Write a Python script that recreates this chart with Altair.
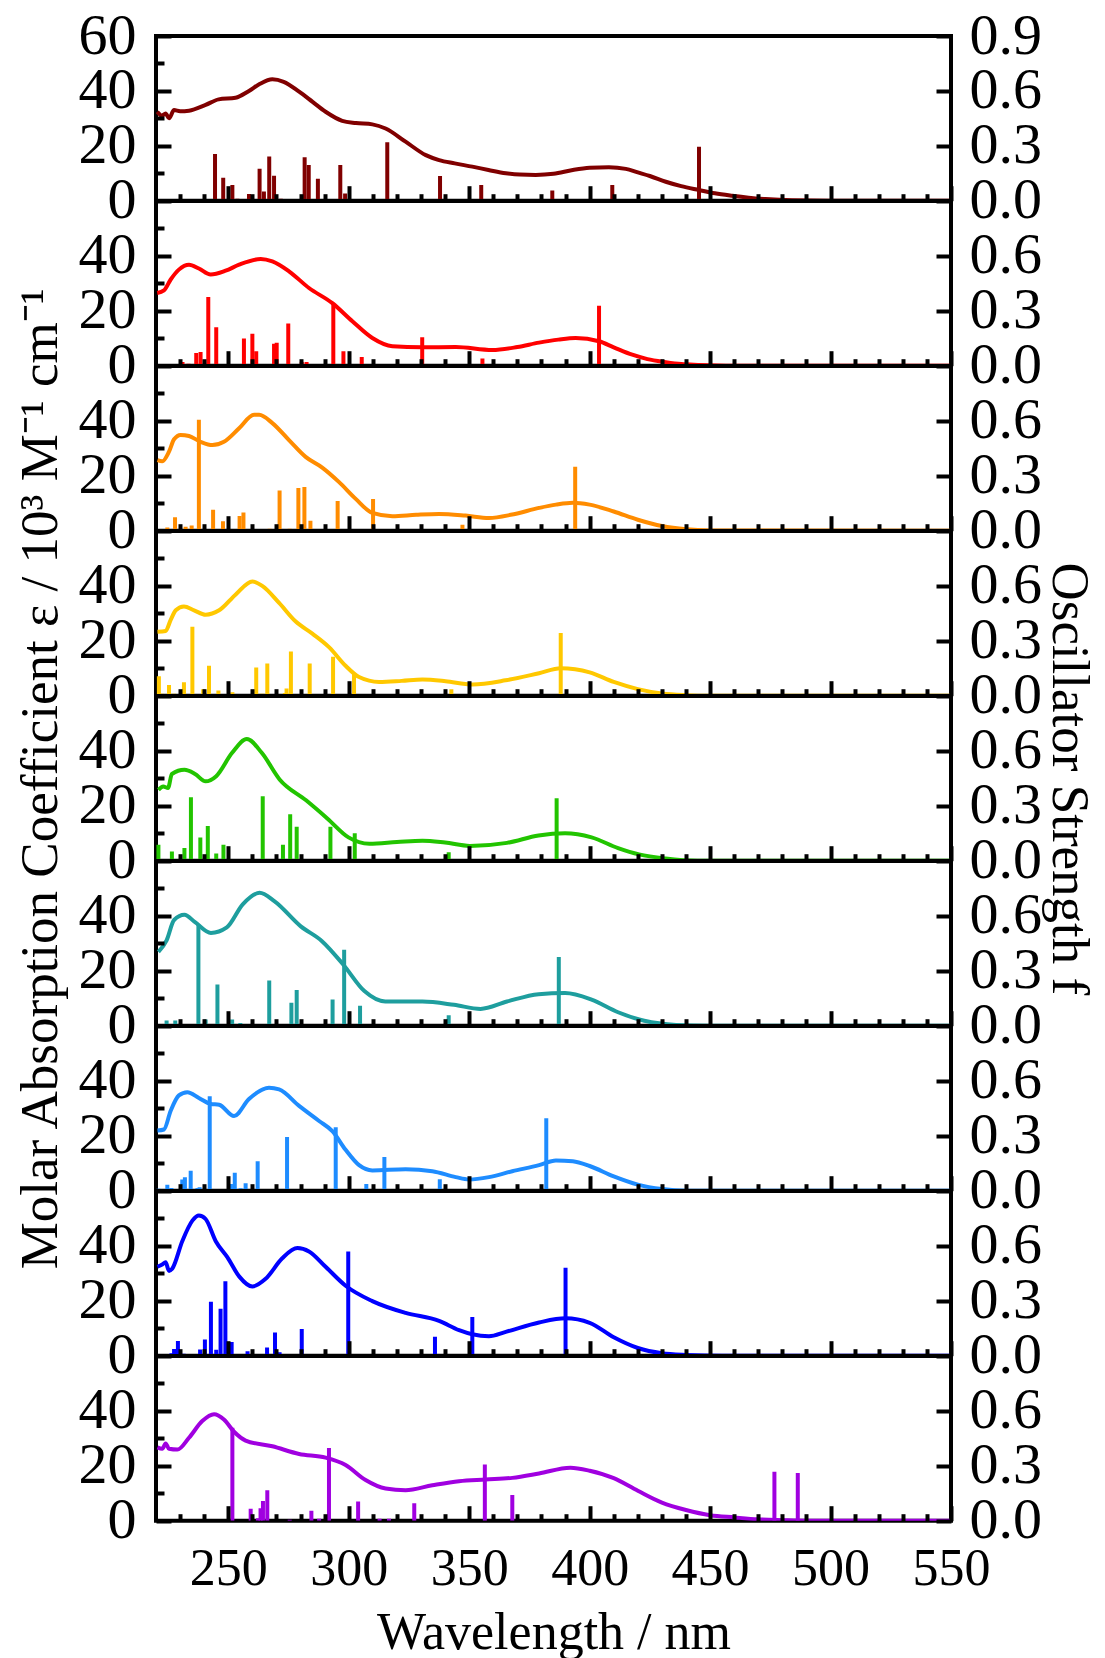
import altair as alt
import pandas as pd

FONT = "Liberation Serif"
COLORS = ["#800000", "#FF0000", "#FF8C00", "#FFC800", "#22C400",
          "#1E9E9E", "#1E8CFF", "#0000FF", "#A000E0"]

X_MAJOR = [250, 300, 350, 400, 450, 500, 550]
X_MINOR = [230, 240, 260, 270, 280, 290, 310, 320, 330, 340, 360, 370, 380, 390,
           410, 420, 430, 440, 460, 470, 480, 490, 510, 520, 530, 540]
EPS_MAJOR_TOP = [0, 20, 40, 60]
EPS_MAJOR = [0, 20, 40]
EPS_MINOR = [10, 30, 50]
F_MAJOR_TOP = [0.0, 0.3, 0.6, 0.9]
F_MAJOR = [0.0, 0.3, 0.6]

# ---- panel 1 (dark red)
P1_WL = [220.5, 222.5, 224, 225.4, 227.5, 230, 233.7, 240.6, 246, 253, 258.6, 263, 268.3, 273,
         279.4, 285, 290.4, 297.3, 303, 309.8, 315.3, 323.6, 332, 337.5, 344, 351.3, 358, 365.2,
         371, 377.6, 385, 393, 400, 408, 415, 420, 425, 431.6, 438, 445.4, 452, 459.2, 466, 473,
         484, 500, 550]
P1_EPS = [32.4, 31, 31.8, 30, 33, 32.6, 32.8, 34.9, 36.9, 37.5, 40, 42.5, 44.2, 43.3,
          39.7, 36, 32.4, 29.1, 28.3, 27.8, 26.3, 21.5, 16.6, 14.8, 13.6, 12.4, 11.2, 10,
          9.5, 9.4, 9.8, 11.2, 12, 12.2, 11.6, 10.3, 9, 6.9, 5.3, 3.9, 2.7, 1.8, 1.1, 0.6,
          0.15, 0, 0]
P1_SWL = [244.5, 247.9, 251.7, 253.8, 258.6, 263, 264.8, 267, 269, 271.8, 275.9, 281.7, 283.4,
          287.2, 296.5, 298.5, 316, 337.9, 355, 384.5, 409.4, 445.4]
P1_SF = [0.255, 0.126, 0.086, 0.01, 0.036, 0.175, 0.05, 0.242, 0.137, 0.01, 0.005, 0.237, 0.195,
         0.12, 0.195, 0.04, 0.32, 0.135, 0.086, 0.056, 0.086, 0.295]

# ---- panel 2 (red)
P2_WL = [220.5, 223.3, 226.1, 229.5, 233.7, 237.8, 242.7, 248.9, 254.5, 263.5, 268.3, 275.2,
         283.5, 293.2, 301.5, 309.8, 318.1, 330.5, 344.4, 359.6, 370, 379, 387, 394.2, 403.9,
         410, 417.7, 424, 431.6, 438, 445, 460, 550]
P2_EPS = [26.5, 27.4, 31.4, 35, 36.8, 35.4, 33.2, 34.6, 36.8, 38.9, 38, 34.4,
          28.3, 22.8, 16.2, 10.1, 7.1, 6.7, 6.8, 5.7, 6.8, 8.4, 9.5, 10.1, 8.9,
          6.7, 4, 2.4, 1.3, 0.6, 0.3, 0, 0]
P2_SWL = [231, 233.5, 236.7, 238.5, 241.7, 245, 256.5, 260, 261.6, 269, 270.1, 274.9, 280.5,
          282.5, 293.6, 297.8, 305.4, 330.5, 355.5, 403.9]
P2_SF = [0.02, 0.01, 0.07, 0.075, 0.375, 0.21, 0.148, 0.175, 0.079, 0.12, 0.126, 0.23, 0.02,
         0.02, 0.337, 0.079, 0.048, 0.155, 0.039, 0.328]

# ---- panel 3 (orange)
P3_WL = [220.6, 222.6, 225.4, 227.5, 230.2, 233.7, 238.5, 243.4, 248.2, 254.5, 260.7, 262.8,
         268.3, 275.2, 282.1, 289, 296, 302.9, 309.8, 318.1, 328, 337.5, 348.5, 358.2, 367.9,
         379, 386, 393, 400, 410, 420, 430, 440, 450, 550]
P3_EPS = [25.7, 25.3, 28.8, 33.3, 34.9, 34.5, 32.4, 31.2, 32.4, 37.3, 42.2, 42.2,
          39.2, 33, 26.9, 23, 17.7, 11.6, 6.5, 5.3, 5.8, 6.1, 5.5, 4.65, 5.9,
          8.3, 9.5, 10.2, 9.5, 7, 4, 1.7, 0.5, 0.1, 0]
P3_SWL = [224.7, 227.9, 232.3, 234.8, 237.8, 243.7, 247.8, 254.7, 256.3, 267.2, 271.3, 275.5,
          279.1, 281.6, 284.1, 295.4, 310.1, 347.2, 394]
P3_SF = [0.018, 0.073, 0.022, 0.029, 0.606, 0.114, 0.051, 0.081, 0.099, 0.01, 0.22, 0.01,
         0.233, 0.239, 0.055, 0.162, 0.173, 0.033, 0.349]

# ---- panel 4 (gold)
P4_WL = [220.6, 224, 226.1, 228.2, 231.6, 235.8, 240.6, 246.2, 253.1, 260, 264.1, 271.1, 278,
         284.9, 291.8, 298.7, 304.3, 312.6, 322, 330.6, 340.2, 351.3, 365.1, 379, 388, 400, 410,
         420, 430, 440, 450, 550]
P4_EPS = [23.3, 23.6, 27.6, 31.1, 32.5, 31.1, 29.5, 31.1, 36.9, 41.6, 40, 33.8, 27,
          22.6, 17.7, 10.9, 6.8, 5, 5.4, 5.9, 5.3, 4.1, 5.6, 8.2, 10, 8.5, 5,
          2.4, 0.8, 0.2, 0, 0]
P4_SWL = [221.2, 222.5, 225.4, 227.5, 231.6, 235.1, 239.6, 242, 245.9, 251.7, 261.6, 264.1,
          266.2, 273.5, 274.2, 276, 283.8, 293.5, 302.2, 342.6, 388]
P4_SF = [0.106, 0.01, 0.059, 0.01, 0.074, 0.377, 0.035, 0.163, 0.028, 0.019, 0.154, 0.01,
         0.176, 0.015, 0.039, 0.241, 0.176, 0.213, 0.12, 0.035, 0.342]

# ---- panel 5 (green)
P5_WL = [221, 223, 225, 226.6, 231.8, 236.2, 240.6, 245, 251.6, 257.7, 263.9, 271.3, 282.3,
         291.1, 299.9, 308.6, 320, 330.6, 340, 350.3, 365.7, 378.8, 389.8, 400.8, 411.8, 420.5,
         431.5, 444.7, 550]
P5_EPS = [25.8, 27, 26.5, 31.6, 33.1, 31.6, 28.9, 30.8, 39.3, 44.3, 39.3, 29.6, 22,
          15.4, 8.5, 6.2, 6.8, 7.3, 6.6, 5.4, 6.5, 9.2, 10, 8.5, 4.6, 2.3,
          0.8, 0, 0]
P5_SWL = [221, 226.6, 231.8, 234.5, 238.4, 241.5, 245, 248, 264.3, 272.7, 275.7, 278.4, 292.4,
          302.5, 341.5, 386.3]
P5_SF = [0.087, 0.05, 0.07, 0.347, 0.127, 0.19, 0.04, 0.087, 0.352, 0.087, 0.254, 0.185, 0.185,
         0.15, 0.046, 0.341]

# ---- panel 6 (teal)
P6_WL = [221, 224.4, 227.5, 231.8, 236.2, 242.8, 249.4, 256, 263, 269.1, 280.1, 288.9, 297.7,
         306.5, 315.2, 330.6, 343.7, 354.7, 365.7, 378.8, 389.8, 400.8, 411.8, 422.7, 435.9,
         450, 550]
P6_EPS = [26.9, 31.1, 38.5, 40.4, 37.7, 33.8, 35.8, 44.2, 48.4, 45.4, 36.2, 30.8, 22.3,
          12.6, 8.8, 8.8, 7.6, 6.1, 8.8, 11.5, 11.9, 9.5, 4.9, 1.8, 0.3,
          0, 0]
P6_SWL = [224.4, 228, 237.6, 240.6, 245.5, 251.6, 255, 267, 276.2, 278.4, 293.3, 298.1, 304.7,
          341.5, 387.2]
P6_SF = [0.028, 0.028, 0.553, 0.034, 0.225, 0.034, 0.015, 0.247, 0.126, 0.195, 0.143, 0.415,
         0.109, 0.057, 0.375]

# ---- panel 7 (azure)
P7_WL = [220.6, 223.3, 226.1, 229.5, 233, 237.8, 242.7, 246.2, 252.4, 258.6, 266.9, 271.1,
         279.4, 287.7, 293.2, 298.7, 304.3, 309.8, 323.6, 334.7, 344.4, 349.9, 358.2, 367.9,
         379, 386, 393, 400, 410, 420, 430, 440, 550]
P7_EPS = [21.9, 22.3, 29.1, 34.7, 35.9, 33.8, 31.6, 31.3, 27.2, 33.4, 37.5, 36.9,
          30.9, 25.4, 21.7, 14.9, 9.3, 7.4, 7.8, 7.1, 4.95, 4.1, 4.95, 7.1,
          9.3, 11, 10.7, 9, 5.2, 2.2, 0.6, 0, 0]
P7_SWL = [221, 224.7, 226.4, 230.9, 232, 234.4, 237.2, 238.1, 242.3, 251.1, 252.7, 255.1, 257.2,
          262.2, 274.4, 294.6, 307.3, 314.8, 337.8, 382]
P7_SF = [0.01, 0.032, 0.015, 0.061, 0.074, 0.109, 0.015, 0.019, 0.516, 0.037, 0.098, 0.013,
         0.041, 0.161, 0.293, 0.347, 0.037, 0.184, 0.063, 0.396]

# ---- panel 8 (blue)
P8_WL = [220.6, 222.6, 224, 225.4, 226.8, 230.9, 235.1, 237.8, 240.6, 244.8, 249.6, 254.5, 260,
         265.5, 272.4, 278.7, 283.5, 290.4, 298.7, 309.8, 323.6, 337.5, 345.8, 351.3, 358.2,
         365.2, 379, 390, 400, 410, 420, 430, 440, 455, 550]
P8_EPS = [32.4, 33.2, 34, 30.9, 31.8, 41.7, 49.2, 51.1, 49.8, 41.7, 35.9, 28.9, 25.2,
          28, 35.5, 39.2, 38, 32.4, 25.5, 19.9, 15.6, 12.7, 9.3, 7.8, 7.1,
          8.7, 12.1, 13.6, 12, 6.7, 2.8, 0.9, 0.3, 0, 0]
P8_SWL = [226.4, 227.5, 229.1, 231.5, 238.3, 240.3, 242.8, 245, 246.8, 248.8, 251.4, 254, 258,
          266.1, 269.4, 271.3, 280.5, 299.8, 335.8, 351.3, 390]
P8_SF = [0.013, 0.037, 0.08, 0.01, 0.034, 0.088, 0.295, 0.032, 0.256, 0.407, 0.075, 0.005, 0.024,
         0.045, 0.127, 0.019, 0.146, 0.569, 0.103, 0.211, 0.48]

# ---- panel 9 (purple)
P9_WL = [220.6, 222.6, 224, 225.4, 228.9, 233.7, 239.2, 244.1, 248.2, 252.4, 257.2, 268.3,
         279.4, 290.4, 298.7, 307, 315.3, 323.6, 334.7, 345.8, 356.8, 367.9, 379, 392, 400,
         410, 420, 430, 440, 450, 460, 470, 480, 490, 550]
P9_EPS = [26.7, 26.2, 28.1, 26.2, 25.9, 30.2, 36.3, 38.8, 36.9, 32.4, 29.2, 27.1,
          24.3, 23, 20.3, 14.8, 11.7, 11.1, 12.9, 14.4, 15, 15.6, 17.2, 19.3, 18.2,
          15.5, 10.9, 6.6, 3.9, 2, 1.2, 0.5, 0.2, 0, 0]
P9_SWL = [251.7, 259.3, 262.3, 263.4, 264.4, 266.2, 275.5, 284.5, 287.7, 291.8, 303.9, 312.8,
          316.7, 327.2, 356.5, 367.9, 476.7, 486.4]
P9_SF = [0.508, 0.065, 0.013, 0.068, 0.107, 0.166, 0.005, 0.054, 0.01, 0.397, 0.105, 0.01,
         0.01, 0.096, 0.307, 0.14, 0.267, 0.261]

PANELS = [
    (P1_WL, P1_EPS, P1_SWL, P1_SF), (P2_WL, P2_EPS, P2_SWL, P2_SF),
    (P3_WL, P3_EPS, P3_SWL, P3_SF), (P4_WL, P4_EPS, P4_SWL, P4_SF),
    (P5_WL, P5_EPS, P5_SWL, P5_SF), (P6_WL, P6_EPS, P6_SWL, P6_SF),
    (P7_WL, P7_EPS, P7_SWL, P7_SF), (P8_WL, P8_EPS, P8_SWL, P8_SF),
    (P9_WL, P9_EPS, P9_SWL, P9_SF),
]

LEFT_TITLE = "Molar Absorption Coefficient ε / 10³ M⁻¹ cm⁻¹"
RIGHT_TITLE = "Oscillator Strength f"
X_TITLE = "Wavelength / nm"

W = 795
H = 164.7


def make_panel(i, wl, eps, swl, sf):
    color = COLORS[i]
    first, last, mid = i == 0, i == len(PANELS) - 1, i == 4
    line_df = pd.DataFrame({"wl": wl, "eps": eps})
    stick_df = pd.DataFrame({"wl": swl, "f": sf, "f0": [0.0] * len(swl)})

    xs = alt.Scale(domain=[220, 550], nice=False, zero=False)
    es = alt.Scale(domain=[0, 60], nice=False)
    fs = alt.Scale(domain=[0, 0.9], nice=False)

    common = dict(grid=False, domain=False, tickColor="black", tickWidth=4, zindex=1,
                  tickCap="butt", labelOverlap=False, labelFlush=False, labelColor="black",
                  labelFont=FONT, titleFont=FONT, titleFontWeight="normal",
                  titleColor="black")

    xmaj = dict(common, orient="bottom", values=X_MAJOR, tickSize=15, offset=-15)
    if last:
        xmaj.update(labels=True, labelFontSize=52, labelPadding=23, format="d",
                    title=X_TITLE, titleFontSize=52, titlePadding=13)
    else:
        xmaj.update(labels=False, title=None)

    ymaj = dict(common, orient="left", values=EPS_MAJOR_TOP if first else EPS_MAJOR,
                tickSize=15, offset=-15, labels=True, labelFontSize=58, labelPadding=20,
                format="d")
    if mid:
        ymaj.update(title=LEFT_TITLE, titleFontSize=53, titlePadding=11)
    else:
        ymaj.update(title=None)

    fmaj = dict(common, orient="right", values=F_MAJOR_TOP if first else F_MAJOR,
                tickSize=15, offset=-15, labels=True, labelFontSize=58, labelPadding=18,
                format=".1f")
    if mid:
        fmaj.update(title=RIGHT_TITLE, titleFontSize=53, titlePadding=0)
    else:
        fmaj.update(title=None)

    xmin = dict(common, orient="bottom", values=X_MINOR, tickSize=7, offset=-7,
                labels=False, title=None)
    ymin = dict(common, orient="left", values=EPS_MINOR, tickSize=8, offset=-8,
                labels=False, title=None)

    line = alt.Chart(line_df).mark_line(
        color=color, strokeWidth=4, interpolate="monotone", clip=True
    ).encode(
        x=alt.X("wl:Q", scale=xs, axis=alt.Axis(**xmaj)),
        y=alt.Y("eps:Q", scale=es, axis=alt.Axis(**ymaj)),
    )
    sticks = alt.Chart(stick_df).mark_rule(
        color=color, strokeWidth=4, clip=True
    ).encode(
        x=alt.X("wl:Q", scale=xs, axis=None),
        y=alt.Y("f:Q", scale=fs, axis=alt.Axis(**fmaj)),
        y2="f0:Q",
    )
    ghost = alt.Chart(line_df).mark_line(strokeOpacity=0, clip=True).encode(
        x=alt.X("wl:Q", scale=xs, axis=alt.Axis(**xmin)),
        y=alt.Y("eps:Q", scale=es, axis=alt.Axis(**ymin)),
    )
    return alt.layer(line, sticks, ghost).resolve_scale(
        y="independent"
    ).resolve_axis(x="independent", y="independent").properties(width=W, height=H)


panels = [make_panel(i, *p) for i, p in enumerate(PANELS)]

chart = alt.vconcat(*panels, spacing=0, bounds="flush").properties(
    padding={"left": 3, "top": -3, "right": 0, "bottom": 0},
    background="white",
).configure(
    font=FONT,
    view=alt.ViewConfig(stroke="black", strokeWidth=4),
)

chart.save("out.html", embed_options={"renderer": "svg", "actions": False})
